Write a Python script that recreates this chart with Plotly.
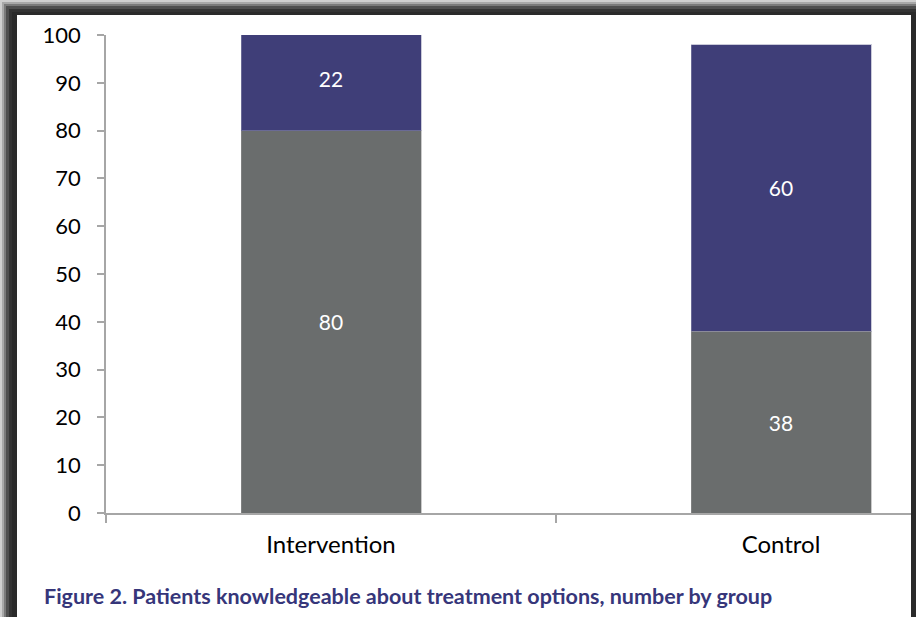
import plotly.graph_objects as go

groups = ["Intervention", "Control"]
knowledgeable = [80, 38]
not_knowledgeable = [22, 60]
y_ticks = [0, 10, 20, 30, 40, 50, 60, 70, 80, 90, 100]
caption = "Figure 2. Patients knowledgeable about treatment options, number by group"

W, H = 916, 617
L, R, T, B = 106, 5, 35, 104
pw, ph = W - L - R, H - T - B

def px_x(x):
    return (x - L) / pw

def px_y(y):
    return (H - B - y) / ph

FONT = "Lato"
fig = go.Figure()
fig.add_trace(go.Bar(
    x=groups, y=knowledgeable, width=0.4,
    marker=dict(color="#6a6d6d", line=dict(color="rgba(150,150,150,0.5)", width=1)),
    text=knowledgeable, textposition="inside", insidetextanchor="middle",
    textfont=dict(color="white", size=21, family=FONT), textangle=0,
    hoverinfo="skip",
))
fig.add_trace(go.Bar(
    x=groups, y=not_knowledgeable, width=0.4,
    marker=dict(color="#3f3e78", line=dict(color="rgba(150,150,180,0.5)", width=1)),
    text=not_knowledgeable, textposition="inside", insidetextanchor="middle",
    textfont=dict(color="white", size=21, family=FONT), textangle=0,
    hoverinfo="skip",
))

# frame / shadow and white panel
frame = [
    (0, 0, "#cfcfcf"),
    (2, 2, "#a8a8a8"),
    (4, 4, "#7a7a7a"),
    (6, 6, "#4e4e4e"),
    (9, 9, "#333333"),
    (12, 12, "#2a2a2a"),
]
shapes = []
for x0, y0, c in frame:
    shapes.append(dict(type="rect", xref="paper", yref="paper",
                       x0=px_x(x0), x1=px_x(W + 20), y0=px_y(H + 20), y1=px_y(y0),
                       fillcolor=c, line=dict(width=0), layer="below"))
shapes.append(dict(type="rect", xref="paper", yref="paper",
                   x0=px_x(17), x1=px_x(911), y0=px_y(H + 20), y1=px_y(15),
                   fillcolor="white", line=dict(width=0), layer="below"))

fig.update_layout(
    width=W, height=H,
    margin=dict(l=L, r=R, t=T, b=B),
    barmode="stack",
    showlegend=False,
    paper_bgcolor="#cfcfcf",
    plot_bgcolor="rgba(0,0,0,0)",
    shapes=shapes,
    font=dict(family=FONT, color="black"),
    xaxis=dict(
        range=[-0.5, -0.5 + pw / 450.0],
        showline=True, linecolor="#a6a6a6", linewidth=1.5,
        ticks="outside", tickson="boundaries", ticklen=8, tickcolor="#a6a6a6", tickwidth=1.5,
        tickfont=dict(size=24, family=FONT, color="black"),
        ticklabelstandoff=9,
        showgrid=False, zeroline=False, fixedrange=True, automargin=False,
    ),
    yaxis=dict(
        range=[0, 100],
        tickvals=y_ticks,
        showline=True, linecolor="#a6a6a6", linewidth=1.5,
        ticks="outside", ticklen=7, tickcolor="#a6a6a6", tickwidth=1.5,
        tickfont=dict(size=22, family=FONT, color="black"),
        ticklabelstandoff=12,
        showgrid=False, zeroline=False, fixedrange=True, automargin=False,
    ),
    annotations=[dict(
        text="<b>" + caption + "</b>", xref="paper", yref="paper",
        x=px_x(42), y=px_y(596), xanchor="left", yanchor="middle",
        showarrow=False, font=dict(size=21.5, family=FONT, color="#36367a"),
    )],
)

fig.write_html(
    "out.html",
    config={"displayModeBar": False},
    post_script="document.body.style.margin='0';document.body.style.overflow='hidden';",
)
